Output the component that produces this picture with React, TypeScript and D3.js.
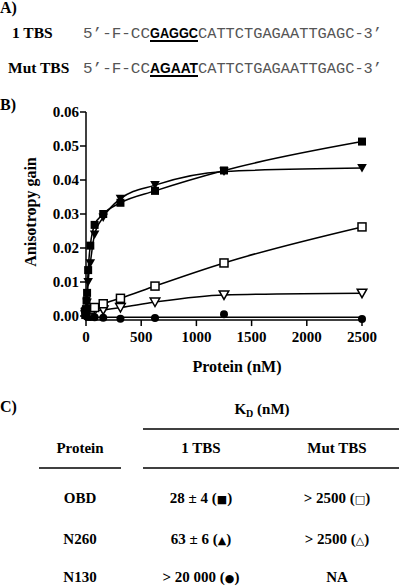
import React from "react";
import * as d3 from "d3";

// ---- Data ----
const conc = [0, 2.4, 4.9, 9.8, 19.5, 39, 78, 156, 312, 625, 1250, 2500];
const obd1TBS = [0.0005, 0.002, 0.0045, 0.0068, 0.0135, 0.0207, 0.0268, 0.030, 0.0333, 0.0368, 0.0428, 0.0513];
const n260_1TBS = [0.0, 0.001, 0.002, 0.004, 0.0100, 0.0155, 0.024, 0.029, 0.0345, 0.0385, 0.0425, 0.0435];
const obdMut = [0.0005, 0.001, 0.0015, 0.001, 0.0015, 0.002, 0.0025, 0.0036, 0.0052, 0.0088, 0.0156, 0.0262];
const n260Mut = [0.0003, 0.0008, 0.001, 0.0012, 0.0012, 0.0015, 0.0016, 0.0018, 0.0025, 0.0041, 0.0062, 0.0067];
const n130_1TBS = [0.0002, 0.0, 0.0003, -0.0002, 0.0001, -0.0003, -0.0004, -0.0005, -0.0008, -0.0006, 0.0005, -0.0009];
const n130FitLevel = -0.0004;

const xTicks = [0, 500, 1000, 1500, 2000, 2500];
const yTicks = [0, 0.01, 0.02, 0.03, 0.04, 0.05, 0.06];

const tableProteins = ["OBD", "N260", "N130"];
const table1TBS = ["28 ± 4", "63 ± 6", "> 20 000"];
const table1Sym = ["■", "▲", "●"];
const tableMut = ["> 2500", "> 2500", "NA"];
const tableMutSym = ["□", "△", ""];

const seqPrefix = "5’-F-CC";
const seqRest = "CATTCTGAGAATTGAGC-3’";
const seqRows = [
  { label: "1 TBS", core: "GAGGC" },
  { label: "Mut TBS", core: "AGAAT" },
];

const serif = "'Liberation Serif', 'Times New Roman', serif";
const mono = "'Liberation Mono', 'Courier New', monospace";
const sans = "'Liberation Sans', Arial, sans-serif";

export default function App() {
  const W = 400, H = 586;
  const x = d3.scaleLinear().domain([0, 2500]).range([86, 362]);
  const y = d3.scaleLinear().domain([0, 0.06]).range([316, 112]);
  const yAxisBottom = y(-0.0012);

  const lineGen = d3
    .line<[number, number]>()
    .x((d) => x(d[0]))
    .y((d) => y(d[1]))
    .curve(d3.curveMonotoneX);

  const pts = (vals: number[]) => conc.map((c, i) => [c, vals[i]] as [number, number]);

  const sq = 8;
  const tri = (cx: number, cy: number) =>
    `M${cx - 4.8},${cy - 4}L${cx + 4.8},${cy - 4}L${cx},${cy + 4.5}Z`;

  const seqLabelX = [12, 8];
  const seqBase = [38, 73];

  return (
    <svg
      width={W}
      height={H}
      style={{ position: "absolute", left: 0, top: 0, background: "#fff" }}
      fontFamily={serif}
    >
      <rect x={0} y={0} width={W} height={H} fill="#fff" />
      {/* Panel A */}
      <text x={0} y={13} fontSize={16} fontWeight="bold">A)</text>
      {seqRows.map((r, i) => (
        <g key={r.label}>
          <text x={seqLabelX[i]} y={seqBase[i]} fontSize={15.5} fontWeight="bold">
            {r.label}
          </text>
          <text x={83} y={seqBase[i]} fontFamily={mono} fontSize={15.5} fill="#555"
            textLength={67} lengthAdjust="spacingAndGlyphs">
            {seqPrefix}
          </text>
          <text x={150} y={seqBase[i]} fontFamily={sans} fontSize={14} fontWeight="bold" fill="#000"
            textLength={48} lengthAdjust="spacingAndGlyphs">
            {r.core}
          </text>
          <text x={198} y={seqBase[i]} fontFamily={mono} fontSize={15.5} fill="#555"
            textLength={184} lengthAdjust="spacingAndGlyphs">
            {seqRest}
          </text>
          <line x1={150} x2={198} y1={seqBase[i] + 3} y2={seqBase[i] + 3} stroke="#000" strokeWidth={2} />
        </g>
      ))}

      {/* Panel B */}
      <text x={0} y={110} fontSize={16} fontWeight="bold">B)</text>
      {/* y axis */}
      <line x1={86} x2={86} y1={y(0.06)} y2={yAxisBottom + 0.75} stroke="#000" strokeWidth={1.5} />
      {yTicks.map((t) => (
        <g key={t}>
          <line x1={80} x2={86} y1={y(t)} y2={y(t)} stroke="#000" strokeWidth={1.5} />
          <text x={79} y={y(t) + 5} textAnchor="end" fontSize={15} fontWeight="bold">
            {d3.format(".2f")(t)}
          </text>
        </g>
      ))}
      {/* x axis */}
      <line x1={86} x2={x(2500)} y1={yAxisBottom} y2={yAxisBottom} stroke="#000" strokeWidth={1.5} />
      {xTicks.map((t) => (
        <g key={t}>
          <line x1={x(t)} x2={x(t)} y1={yAxisBottom} y2={yAxisBottom + 6} stroke="#000" strokeWidth={1.5} />
          <text x={x(t)} y={342} textAnchor="middle" fontSize={15} fontWeight="bold">
            {t}
          </text>
        </g>
      ))}
      <text x={237} y={372} textAnchor="middle" fontSize={16} fontWeight="bold">Protein (nM)</text>
      <text transform="translate(36,212) rotate(-90)" textAnchor="middle" fontSize={16} fontWeight="bold">
        Anisotropy gain
      </text>

      {/* lines */}
      <g fill="none" stroke="#000" strokeWidth={1.5}>
        <path d={lineGen(pts(obd1TBS)) || ""} />
        <path d={lineGen(pts(n260_1TBS)) || ""} />
        <path d={lineGen(pts(obdMut)) || ""} />
        <path d={lineGen(pts(n260Mut)) || ""} />
        <path d={lineGen([[0, n130FitLevel], [2500, n130FitLevel]]) || ""} />
      </g>

      {/* markers */}
      {conc.map((c, i) => (
        <circle key={"c" + i} cx={x(c)} cy={y(n130_1TBS[i])} r={4} fill="#000" />
      ))}
      {conc.map((c, i) => (
        <path key={"vo" + i} d={tri(x(c), y(n260Mut[i]))} fill="#fff" stroke="#000" strokeWidth={1.5} />
      ))}
      {conc.map((c, i) => (
        <rect key={"so" + i} x={x(c) - sq / 2} y={y(obdMut[i]) - sq / 2} width={sq} height={sq}
          fill="#fff" stroke="#000" strokeWidth={1.5} />
      ))}
      {conc.map((c, i) => (
        <path key={"vf" + i} d={tri(x(c), y(n260_1TBS[i]))} fill="#000" />
      ))}
      {conc.map((c, i) => (
        <rect key={"sf" + i} x={x(c) - sq / 2} y={y(obd1TBS[i]) - sq / 2} width={sq} height={sq} fill="#000" />
      ))}

      {/* Panel C */}
      <text x={0} y={412} fontSize={16} fontWeight="bold">C)</text>
      <text x={262} y={414} textAnchor="middle" fontSize={15} fontWeight="bold">
        K<tspan fontSize={10} dy={3}>D</tspan><tspan dy={-3}> (nM)</tspan>
      </text>
      <line x1={143} x2={399} y1={429} y2={429} stroke="#000" strokeWidth={1.5} />
      <text x={80} y={453} textAnchor="middle" fontSize={15} fontWeight="bold">Protein</text>
      <text x={201} y={453} textAnchor="middle" fontSize={15} fontWeight="bold">1 TBS</text>
      <text x={337} y={453} textAnchor="middle" fontSize={15} fontWeight="bold">Mut TBS</text>
      <line x1={39} x2={121} y1={468} y2={468} stroke="#000" strokeWidth={1.5} />
      <line x1={143} x2={399} y1={468} y2={468} stroke="#000" strokeWidth={1.5} />
      {tableProteins.map((p, i) => {
        const by = [503, 544, 582][i];
        return (
          <g key={p} fontSize={15} fontWeight="bold">
            <text x={80} y={by} textAnchor="middle">{p}</text>
            <text x={201} y={by} textAnchor="middle">
              {table1TBS[i]} (<tspan fontFamily="'DejaVu Sans'" fontSize={11}>{table1Sym[i]}</tspan>)
            </text>
            <text x={337} y={by} textAnchor="middle">
              {tableMut[i]}
              {tableMutSym[i] ? (
                <>
                  {" ("}
                  <tspan fontFamily="'DejaVu Sans'" fontSize={11}>{tableMutSym[i]}</tspan>
                  {")"}
                </>
              ) : null}
            </text>
          </g>
        );
      })}
    </svg>
  );
}
